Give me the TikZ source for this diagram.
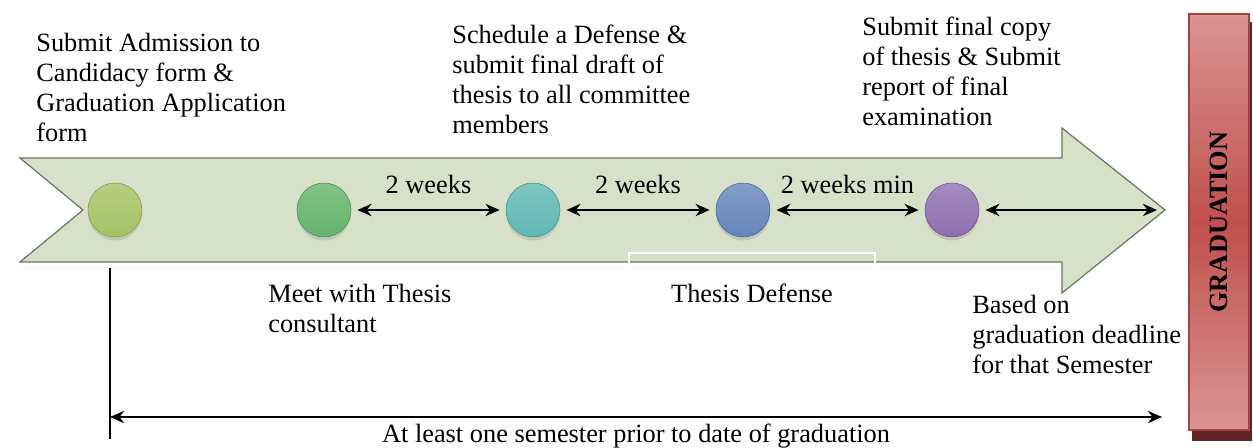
\documentclass[tikz,border=0pt]{standalone}
\usepackage{fontspec}
\setmainfont{Liberation Serif}
\usepackage{tikz}
\usetikzlibrary{arrows.meta,shadows}

\definecolor{bandfill}{RGB}{215,224,200}
\definecolor{bandedge}{RGB}{110,118,100}
\definecolor{dotA}{RGB}{150,186,78}
\definecolor{dotB}{RGB}{78,170,88}
\definecolor{dotC}{RGB}{72,174,168}
\definecolor{dotD}{RGB}{80,116,180}
\definecolor{dotE}{RGB}{126,90,164}
\definecolor{gradred}{RGB}{192,80,77}
\definecolor{gradlight}{RGB}{218,148,146}
\definecolor{gradshadow}{RGB}{99,37,35}

\begin{document}
\begin{tikzpicture}[x=0.02cm, y=-0.02cm,
    font=\fontsize{15pt}{17pt}\selectfont,
    dot/.style={circle, minimum size=1.08cm, inner sep=0pt,
        top color=#1!70!white, middle color=#1, bottom color=#1!88!white,
        draw=#1!85!black, line width=0.3pt,
        drop shadow={shadow xshift=0pt, shadow yshift=-2pt, opacity=0.25}},
    gap/.style={<->, >={Stealth[length=8pt,width=7pt]}, line width=1.3pt, shorten <=3.5pt, shorten >=3.5pt},
    note/.style={anchor=north west, align=left, inner sep=0pt}]
    \useasboundingbox (0,0) rectangle (1253,448);
    % Draw the timeline arrow
    \path[drop shadow={shadow xshift=0pt, shadow yshift=-3pt, opacity=0.35},
          preaction={draw=white, line width=6pt},
          fill=bandfill, draw=bandedge, line width=0.7pt]
        (20,158) -- (1062,158) -- (1062,128) -- (1165,210) -- (1062,293)
        -- (1062,262) -- (20,262) -- (83,210) -- cycle;
    \draw[white, line width=0.8pt] (629,290) -- (629,253) -- (875,253) -- (875,290);
    % Draw milestones
    \node (c1) [dot=dotA] at (115,210) {};
    \node (c2) [dot=dotB] at (324,210) {};
    \node (c3) [dot=dotC] at (533,210) {};
    \node (c4) [dot=dotD] at (743,210) {};
    \node (c5) [dot=dotE] at (952,210) {};
    \coordinate (gend) at (1157,210);
    % Draw time gaps
    \draw[gap] (c2) -- (c3) node[midway, above=5pt] {2 weeks};
    \draw[gap] (c3) -- (c4) node[midway, above=5pt] {2 weeks};
    \draw[gap] (c4) -- (c5) node[midway, above=5pt] {2 weeks min};
    \draw[gap, shorten >=0pt] (c5) -- (gend);
    % Draw step texts
    \node (t1) [note] at (36,33) {Submit Admission to\\Candidacy form \&\\Graduation Application\\form};
    \node (t2) [note] at (452,25) {Schedule a Defense \&\\submit final draft of\\thesis to all committee\\members};
    \node (t3) [note] at (862,17) {Submit final copy\\of thesis \& Submit\\report of final\\examination};
    \node (t4) [note] at (268,284) {Meet with Thesis\\consultant};
    \node (t5) [anchor=base, inner sep=0pt] at (752,303) {Thesis Defense};
    \node (t6) [note] at (972,295) {Based on\\graduation deadline\\for that Semester};
    % Draw overall span
    \coordinate (ltop) at (110,268);
    \coordinate (lbot) at (110,439);
    \coordinate (span0) at (110,417);
    \coordinate (span1) at (1162,417);
    \draw[line width=0.6pt] (ltop) -- (lbot);
    \draw[gap, shorten <=0pt, shorten >=0pt] (span0) -- (span1)
        node[midway, below=0pt] {At least one semester prior to date of graduation};
    % Draw graduation box
    \fill[gradshadow] (1192,22) rectangle (1252,441);
    \node (grad) [rotate=90, minimum width=8.32cm, minimum height=1.2cm, inner sep=0pt,
        top color=gradlight, bottom color=gradlight, middle color=gradred,
        draw=gradred!85!black, line width=0.8pt, font=\fontsize{15pt}{17pt}\selectfont\bfseries]
        at (1219,222) {GRADUATION};
\end{tikzpicture}
\end{document}
